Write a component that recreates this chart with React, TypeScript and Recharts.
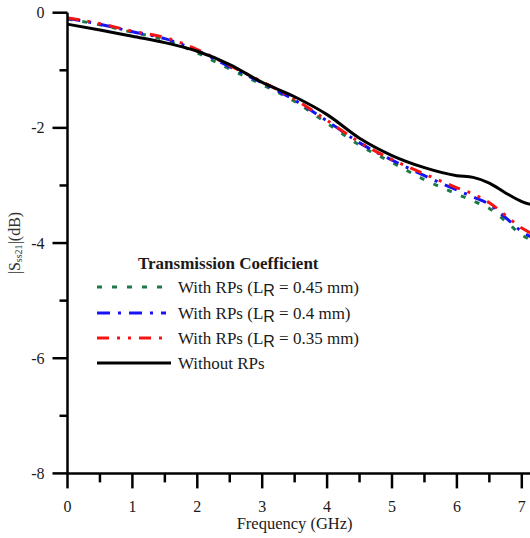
import { LineChart, Line, XAxis, YAxis, Legend } from "recharts";

// frequency points (GHz)
const freq = [0, 0.5, 1, 1.5, 2, 2.5, 3, 3.5, 4, 4.5, 5, 5.5, 6, 6.25, 6.5, 6.75, 7, 7.25];

// |Sss21| (dB) for each configuration
const rp045 = [-0.11, -0.21, -0.34, -0.47, -0.7, -0.98, -1.25, -1.54, -1.92, -2.3, -2.6, -2.9, -3.15, -3.27, -3.4, -3.62, -3.86, -4.0];
const rp040 = [-0.1, -0.2, -0.33, -0.45, -0.66, -0.94, -1.22, -1.52, -1.88, -2.26, -2.56, -2.83, -3.08, -3.2, -3.33, -3.56, -3.8, -3.95];
const rp035 = [-0.09, -0.19, -0.32, -0.43, -0.64, -0.92, -1.2, -1.5, -1.87, -2.25, -2.55, -2.8, -3.04, -3.15, -3.3, -3.52, -3.74, -3.88];
const noRp = [-0.2, -0.3, -0.41, -0.52, -0.67, -0.9, -1.21, -1.46, -1.77, -2.18, -2.48, -2.69, -2.83, -2.86, -2.96, -3.13, -3.28, -3.36];

const xTicks = [0, 0.5, 1, 1.5, 2, 2.5, 3, 3.5, 4, 4.5, 5, 5.5, 6, 6.5, 7, 7.5, 8];
const yTicks = [0, -1, -2, -3, -4, -5, -6, -7, -8];

const SERIES = [
  { key: "rp045", label: "0.45", color: "#1d7a47", dash: "5 10" },
  { key: "rp040", label: "0.4", color: "#1414f5", dash: "13 8 3 8" },
  { key: "rp035", label: "0.35", color: "#f51414", dash: "12 8 3 8 3 8" },
  { key: "noRp", label: null, color: "#000000", dash: undefined },
];

const data = freq.map((f, i) => ({
  f,
  rp045: rp045[i],
  rp040: rp040[i],
  rp035: rp035[i],
  noRp: noRp[i],
}));

const FONT = "Liberation Serif, Times New Roman, serif";
const TEXT = "#1a1a1a";

const XTick = ({ x, y, payload }: any) => {
  const major = Number.isInteger(payload.value);
  return (
    <g>
      <line x1={x} x2={x} y1={y} y2={y + (major ? 15 : 9)} stroke="#000" strokeWidth={2.5} />
      {major && (
        <text x={x} y={y + 39} textAnchor="middle" fontSize={16} fontFamily={FONT} fill={TEXT}>
          {payload.value}
        </text>
      )}
    </g>
  );
};

const YTick = ({ x, y, payload }: any) => {
  const major = payload.value % 2 === 0;
  return (
    <g>
      <line x1={x - (major ? 15 : 8)} x2={x} y1={y} y2={y} stroke="#000" strokeWidth={2.5} />
      {major && (
        <text x={x - 23} y={y + 5.5} textAnchor="end" fontSize={16} fontFamily={FONT} fill={TEXT}>
          {`${payload.value}`}
        </text>
      )}
    </g>
  );
};

const YLabel = ({ viewBox }: any) => {
  const cx = viewBox.x + 7;
  const cy = viewBox.y + viewBox.height / 2;
  return (
    <text
      x={cx}
      y={cy}
      transform={`rotate(-90 ${cx} ${cy})`}
      textAnchor="middle"
      dominantBaseline="central"
      fontSize={16}
      fontFamily={FONT}
      fill="#333"
    >
      |S
      <tspan fontSize={10} dy={4}>ss21</tspan>
      <tspan dy={-4}>|(dB)</tspan>
    </text>
  );
};

const XLabel = ({ viewBox }: any) => {
  // original axis stops at 7 GHz, so centre the title on 3.5
  const cx = viewBox.x + (viewBox.width * 3.5) / 8;
  return (
    <text x={cx} y={viewBox.y + 56} textAnchor="middle" fontSize={16.5} fontFamily={FONT} fill={TEXT}>
      Frequency (GHz)
    </text>
  );
};

const LegendBox = () => {
  const rows = [37, 63, 88, 113];
  return (
    <svg width={300} height={125} style={{ display: "block" }}>
      <text x={48} y={18.5} fontSize={17} fontWeight="bold" fontFamily={FONT} fill={TEXT}>
        Transmission Coefficient
      </text>
      {SERIES.map((s, i) => (
        <g key={s.key}>
          <line
            x1={7}
            x2={s.label ? 76 : 81}
            y1={rows[i]}
            y2={rows[i]}
            stroke={s.color}
            strokeWidth={3}
            strokeDasharray={s.dash}
          />
          <text x={88} y={rows[i] + 5.5} fontSize={17} fontFamily={FONT} fill={TEXT}>
            {s.label ? (
              <>
                With RPs (L
                <tspan fontFamily="Liberation Sans, Arial, sans-serif" fontSize={16} dy={3}>R</tspan>
                <tspan dy={-3}> = {s.label} mm)</tspan>
              </>
            ) : (
              "Without RPs"
            )}
          </text>
        </g>
      ))}
    </svg>
  );
};

export default function App() {
  return (
    <div
      style={{
        position: "absolute",
        left: 0,
        top: 0,
        width: 530,
        height: 538,
        overflow: "hidden",
        background: "#fff",
      }}
    >
      <LineChart
        width={600}
        height={538}
        data={data}
        margin={{ top: 12.7, right: 13.3, left: 7.5, bottom: 24.6 }}
      >
        <XAxis
          dataKey="f"
          type="number"
          domain={[0, 8]}
          ticks={xTicks}
          interval={0}
          tickSize={0}
          tickMargin={0}
          tickLine={false}
          axisLine={{ stroke: "#000", strokeWidth: 2.5 }}
          tick={<XTick />}
          height={40}
          label={{ content: <XLabel /> }}
        />
        <YAxis
          type="number"
          domain={[-8, 0]}
          ticks={yTicks}
          interval={0}
          tickSize={0}
          tickMargin={0}
          tickLine={false}
          axisLine={{ stroke: "#000", strokeWidth: 2.5 }}
          tick={<YTick />}
          width={60}
          label={{ content: <YLabel /> }}
        />
        <Legend
          layout="vertical"
          align="center"
          verticalAlign="middle"
          content={<LegendBox />}
          wrapperStyle={{ left: 90, top: 250, width: 300, height: 125 }}
        />
        {SERIES.map((s) => (
          <Line
            key={s.key}
            type="monotone"
            dataKey={s.key}
            stroke={s.color}
            strokeWidth={3}
            strokeDasharray={s.dash}
            dot={false}
            activeDot={false}
            isAnimationActive={false}
          />
        ))}
      </LineChart>
    </div>
  );
}
